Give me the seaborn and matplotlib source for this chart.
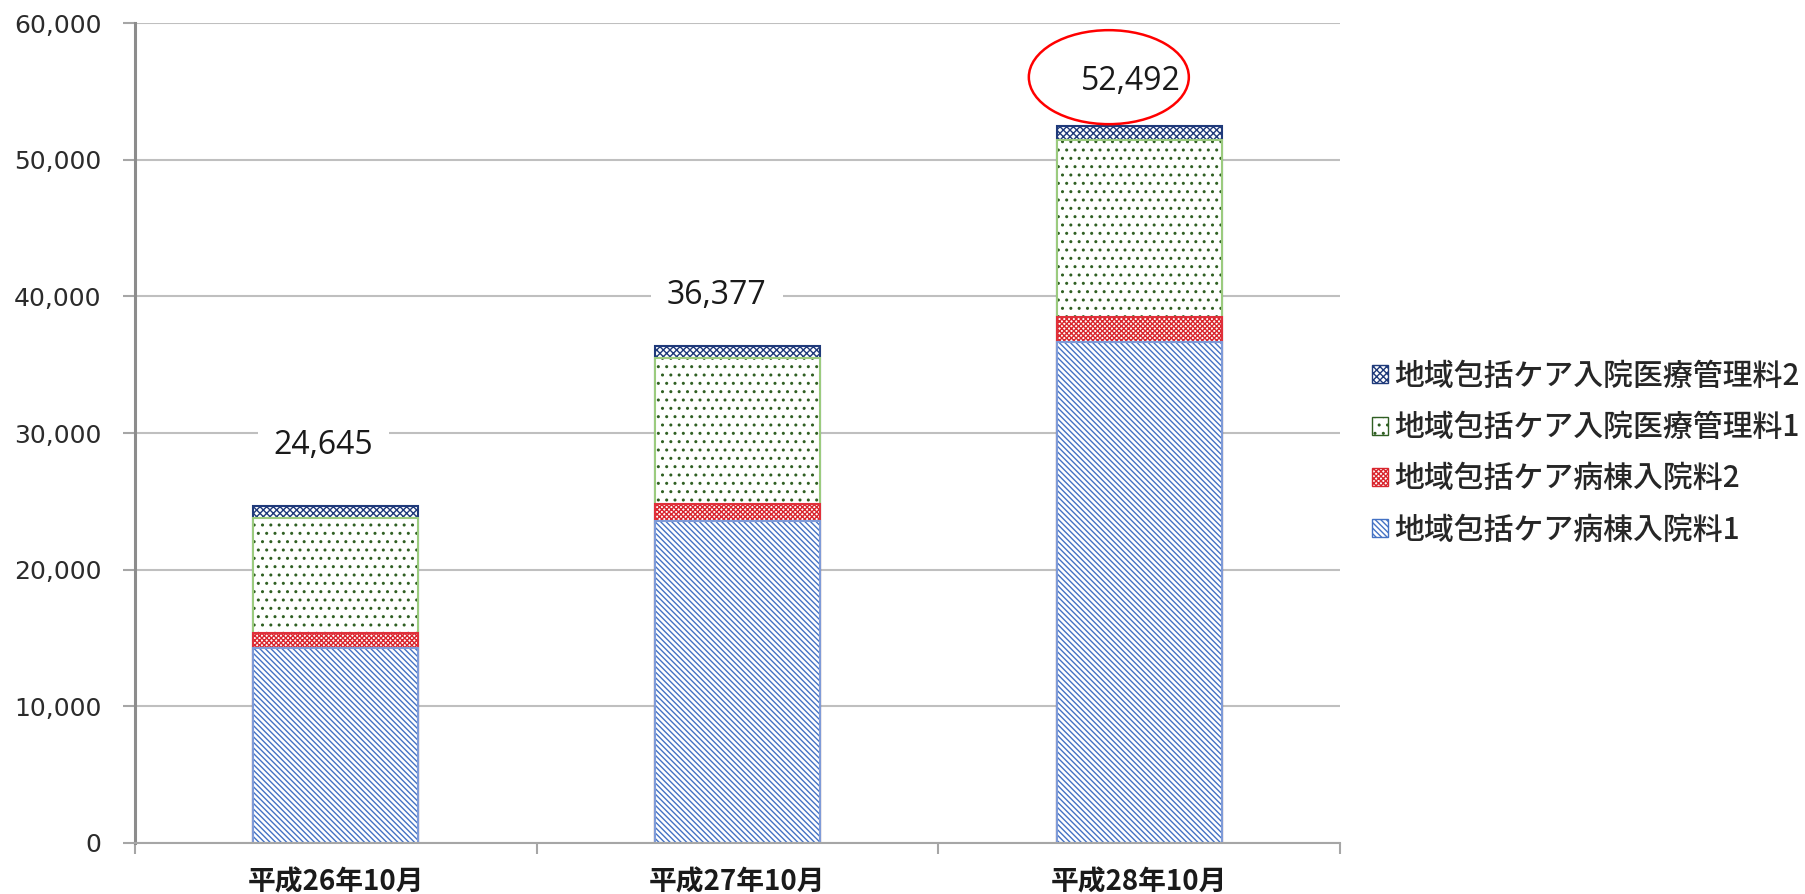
import matplotlib
matplotlib.use("Agg")
import matplotlib.pyplot as plt
import seaborn as sns
import numpy as np
from matplotlib.patches import Patch, Ellipse
from matplotlib.ticker import FuncFormatter

# ---------------- data ----------------
categories = ["平成26年10月", "平成27年10月", "平成28年10月"]
series_names = ["地域包括ケア病棟入院料1", "地域包括ケア病棟入院料2",
                "地域包括ケア入院医療管理料1", "地域包括ケア入院医療管理料2"]
ward_fee1 = [14300, 23580, 36680]
ward_fee2 = [1100, 1220, 1830]
unit_fee1 = [8400, 10690, 12930]
unit_fee2 = [845, 887, 1052]
totals = [24645, 36377, 52492]
y_ticks = [0, 10000, 20000, 30000, 40000, 50000, 60000]

# ---------------- style ----------------
hatch_colors = ["#4472C4", "#D9262E", "#2F5F22", "#1F3A7A"]
outline_colors = ["#7F9BD8", "#E0303A", "#9BCB7E", "#1F3A7A"]
hatches = ["\\\\\\\\\\\\", "xxxxxxx", "..", "xxxxx"]
label_dx_pt = [-9, -15, -6]
label_dy_pt = [44, 36, 32]

sns.set_style("white")
plt.rcParams["font.family"] = ["Noto Sans CJK JP", "DejaVu Sans"]
plt.rcParams["hatch.linewidth"] = 1.0

fig = plt.figure(figsize=(18.06, 8.94), dpi=100)
ax = fig.add_axes([135 / 1806, 51 / 894, (1340 - 135) / 1806, (843 - 23) / 894])

series = [ward_fee1, ward_fee2, unit_fee1, unit_fee2]
cum = np.cumsum(np.array(series, dtype=float), axis=0)

# draw from top cumulative layer down so lower layers overlay
for k in range(3, -1, -1):
    sns.barplot(x=categories, y=cum[k], color="white", width=0.41, ax=ax,
                errorbar=None, linewidth=0)
    for p in ax.containers[-1]:
        p.set_facecolor("white")
        p.set_edgecolor(hatch_colors[k])
        p.set_hatch(hatches[k])
        p.set_linewidth(0)
    sns.barplot(x=categories, y=cum[k], fill=False, width=0.41, ax=ax,
                errorbar=None)
    for p in ax.containers[-1]:
        p.set_facecolor("none")
        p.set_edgecolor(outline_colors[k])
        p.set_hatch(None)
        p.set_linewidth(1.5)

ax.set_xlim(-0.5, 2.5)
ax.set_ylim(0, 60000)
ax.set_yticks(y_ticks)
ax.yaxis.set_major_formatter(FuncFormatter(lambda v, _: f"{int(v):,}"))
ax.yaxis.grid(True, color="#BFBFBF", linewidth=1.5)
ax.xaxis.grid(False)
ax.set_axisbelow(True)
ax.set_xlabel("")
ax.set_ylabel("")

for s in ["top", "right"]:
    ax.spines[s].set_visible(False)
ax.spines["left"].set_color("#8C8C8C")
ax.spines["left"].set_linewidth(2.2)
ax.spines["bottom"].set_color("#A6A6A6")
ax.spines["bottom"].set_linewidth(1.5)

ax.set_xticks([0, 1, 2])
ax.set_xticklabels(categories, fontsize=20, fontweight="bold", color="#1a1a1a")
ax.set_xticks([-0.5, 0.5, 1.5, 2.5], minor=True)
ax.tick_params(axis="x", which="major", length=0, pad=18.5)
ax.tick_params(axis="x", which="minor", length=8, width=1.5, color="#A6A6A6",
               direction="out", bottom=True)
ax.tick_params(axis="y", which="major", length=9, width=1.5, color="#A6A6A6",
               direction="out", left=True, pad=15, labelsize=18, labelcolor="#2b2b2b")
for t in ax.get_yticklabels():
    t.set_fontfamily("DejaVu Sans")

# total labels
for i, t in enumerate(totals):
    ax.annotate(f"{t:,}", xy=(i, t), xytext=(label_dx_pt[i], label_dy_pt[i]),
                textcoords="offset points", ha="center", va="center",
                fontsize=23, family="Open Sans", color="#1a1a1a",
                bbox=dict(boxstyle="square,pad=0.5", fc="white", ec="none"))

# red ellipse around the last total
fig.canvas.draw()
last = len(totals) - 1
cx, cy = ax.transData.transform((last, totals[last]))
cx += label_dx_pt[last] * 100 / 72 - 22
cy += label_dy_pt[last] * 100 / 72 + 4
ex, ey = ax.transData.inverted().transform((cx, cy))
x0, y0 = ax.transData.inverted().transform((0, 0))
x1, y1 = ax.transData.inverted().transform((160, 94))
ax.add_patch(Ellipse((ex, ey), width=x1 - x0, height=y1 - y0, fill=False,
                     edgecolor="#FF0000", linewidth=1.8, clip_on=False, zorder=6))

# legend (reverse order)
handles = [Patch(facecolor="white", edgecolor=hatch_colors[k], hatch=hatches[k],
                 linewidth=1.0, label=series_names[k]) for k in range(3, -1, -1)]
fig.legend(handles=handles, loc="center left", bbox_to_anchor=(1372 / 1806, 0.493),
           frameon=False, handlelength=0.55, handleheight=0.55,
           handletextpad=0.2, labelspacing=0.68, borderpad=0, borderaxespad=0,
           prop={"size": 21.5, "weight": "medium"})

fig.savefig("out.png", dpi=100)
